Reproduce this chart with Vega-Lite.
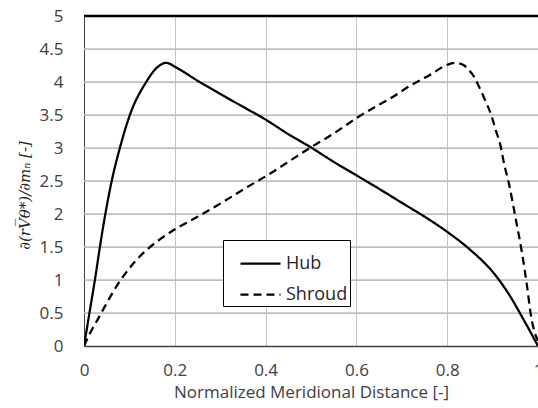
{
  "$schema": "https://vega.github.io/schema/vega-lite/v6.json",
  "width": 454,
  "height": 330,
  "autosize": {"type": "none"},
  "padding": {"left": 84, "top": 16, "right": 0, "bottom": 62},
  "background": "white",
  "config": {
    "view": {"stroke": null},
    "font": "Open Sans",
    "axis": {"gridColor": "#c4c4c4", "gridWidth": 1, "gridOpacity": 1, "tickSize": 0, "tickColor": "transparent"}
  },
  "encoding": {
    "y": {
      "field": "y", "type": "quantitative",
      "scale": {"domain": [0, 5], "nice": false},
      "axis": {
        "values": [0, 0.5, 1, 1.5, 2, 2.5, 3, 3.5, 4, 4.5, 5],
        "format": ".1~f",
        "grid": true,
        "gridColor": "#bdbdbd",
        "labelOverlap": false,
        "title": "∂(rV̅θ*)/∂mₙ [-]",
        "titleFont": "DejaVu Serif",
        "titleFontStyle": "italic",
        "titleFontWeight": "normal",
        "titleFontSize": 15,
        "titleColor": "#262626",
        "titleX": -52,
        "titleY": 179,
        "labelFont": "Open Sans",
        "labelFontSize": 17,
        "labelColor": "#404040",
        "labelPadding": 21,
        "domainColor": "#404040",
        "domainWidth": 1
      }
    }
  },
  "layer": [
    {
      "data": {"values": [{"y": 0.5}, {"y": 1}, {"y": 1.5}, {"y": 2}, {"y": 2.5}, {"y": 3}, {"y": 3.5}, {"y": 4}, {"y": 4.5}]},
      "mark": {"type": "rule", "color": "#c0c0c0", "strokeWidth": 1.4},
      "encoding": {}
    },
    {
      "data": {
        "values": [
          {"x": 0, "y": 0, "series": "Hub"},
          {"x": 0.006, "y": 0.25, "series": "Hub"},
          {"x": 0.012, "y": 0.5, "series": "Hub"},
          {"x": 0.024, "y": 1.0, "series": "Hub"},
          {"x": 0.035, "y": 1.5, "series": "Hub"},
          {"x": 0.047, "y": 2.0, "series": "Hub"},
          {"x": 0.061, "y": 2.5, "series": "Hub"},
          {"x": 0.079, "y": 3.0, "series": "Hub"},
          {"x": 0.101, "y": 3.5, "series": "Hub"},
          {"x": 0.137, "y": 4.0, "series": "Hub"},
          {"x": 0.158, "y": 4.2, "series": "Hub"},
          {"x": 0.181, "y": 4.29, "series": "Hub"},
          {"x": 0.203, "y": 4.22, "series": "Hub"},
          {"x": 0.25, "y": 4.02, "series": "Hub"},
          {"x": 0.3, "y": 3.82, "series": "Hub"},
          {"x": 0.341, "y": 3.66, "series": "Hub"},
          {"x": 0.4, "y": 3.43, "series": "Hub"},
          {"x": 0.45, "y": 3.21, "series": "Hub"},
          {"x": 0.502, "y": 3.0, "series": "Hub"},
          {"x": 0.55, "y": 2.79, "series": "Hub"},
          {"x": 0.604, "y": 2.57, "series": "Hub"},
          {"x": 0.648, "y": 2.39, "series": "Hub"},
          {"x": 0.7, "y": 2.17, "series": "Hub"},
          {"x": 0.757, "y": 1.93, "series": "Hub"},
          {"x": 0.8, "y": 1.73, "series": "Hub"},
          {"x": 0.852, "y": 1.45, "series": "Hub"},
          {"x": 0.903, "y": 1.1, "series": "Hub"},
          {"x": 0.939, "y": 0.75, "series": "Hub"},
          {"x": 0.969, "y": 0.39, "series": "Hub"},
          {"x": 0.993, "y": 0.09, "series": "Hub"},
          {"x": 1.0, "y": 0.0, "series": "Hub"},
          {"x": 0, "y": 0, "series": "Shroud"},
          {"x": 0.013, "y": 0.19, "series": "Shroud"},
          {"x": 0.03, "y": 0.4, "series": "Shroud"},
          {"x": 0.046, "y": 0.6, "series": "Shroud"},
          {"x": 0.065, "y": 0.83, "series": "Shroud"},
          {"x": 0.086, "y": 1.05, "series": "Shroud"},
          {"x": 0.11, "y": 1.26, "series": "Shroud"},
          {"x": 0.137, "y": 1.45, "series": "Shroud"},
          {"x": 0.17, "y": 1.63, "series": "Shroud"},
          {"x": 0.203, "y": 1.78, "series": "Shroud"},
          {"x": 0.24, "y": 1.92, "series": "Shroud"},
          {"x": 0.276, "y": 2.06, "series": "Shroud"},
          {"x": 0.32, "y": 2.24, "series": "Shroud"},
          {"x": 0.36, "y": 2.41, "series": "Shroud"},
          {"x": 0.4, "y": 2.57, "series": "Shroud"},
          {"x": 0.45, "y": 2.79, "series": "Shroud"},
          {"x": 0.502, "y": 3.02, "series": "Shroud"},
          {"x": 0.55, "y": 3.22, "series": "Shroud"},
          {"x": 0.604, "y": 3.47, "series": "Shroud"},
          {"x": 0.648, "y": 3.65, "series": "Shroud"},
          {"x": 0.677, "y": 3.76, "series": "Shroud"},
          {"x": 0.72, "y": 3.95, "series": "Shroud"},
          {"x": 0.76, "y": 4.1, "series": "Shroud"},
          {"x": 0.8, "y": 4.26, "series": "Shroud"},
          {"x": 0.819, "y": 4.29, "series": "Shroud"},
          {"x": 0.835, "y": 4.26, "series": "Shroud"},
          {"x": 0.848, "y": 4.18, "series": "Shroud"},
          {"x": 0.86, "y": 4.07, "series": "Shroud"},
          {"x": 0.87, "y": 3.93, "series": "Shroud"},
          {"x": 0.885, "y": 3.7, "series": "Shroud"},
          {"x": 0.896, "y": 3.52, "series": "Shroud"},
          {"x": 0.907, "y": 3.27, "series": "Shroud"},
          {"x": 0.918, "y": 3.02, "series": "Shroud"},
          {"x": 0.925, "y": 2.77, "series": "Shroud"},
          {"x": 0.936, "y": 2.46, "series": "Shroud"},
          {"x": 0.95, "y": 1.96, "series": "Shroud"},
          {"x": 0.965, "y": 1.4, "series": "Shroud"},
          {"x": 0.976, "y": 0.9, "series": "Shroud"},
          {"x": 0.985, "y": 0.44, "series": "Shroud"},
          {"x": 0.993, "y": 0.2, "series": "Shroud"},
          {"x": 1.0, "y": 0.08, "series": "Shroud"}
        ]
      },
      "mark": {"type": "line", "interpolate": "monotone", "strokeWidth": 2.25, "color": "black", "clip": true},
      "encoding": {
        "x": {
          "field": "x", "type": "quantitative",
          "scale": {"domain": [0, 1], "nice": false},
          "axis": {
            "values": [0, 0.2, 0.4, 0.6, 0.8, 1],
            "format": ".1~f",
            "labelFlush": false,
            "grid": true,
            "title": "Normalized Meridional Distance [-]",
            "titleFont": "Open Sans",
            "titleFontSize": 17,
            "titleFontWeight": "normal",
            "titleColor": "#404040",
            "titlePadding": 6,
            "labelFont": "Open Sans",
            "labelFontSize": 17,
            "labelColor": "#404040",
            "labelPadding": 16,
            "domainColor": "#404040",
            "domainWidth": 1.5
          }
        },
        "strokeDash": {
          "field": "series", "type": "nominal",
          "scale": {"domain": ["Hub", "Shroud"], "range": [[1, 0], [8, 5]]},
          "legend": {
            "orient": "none",
            "legendX": 139,
            "legendY": 224,
            "title": null,
            "symbolType": "stroke",
            "symbolSize": 1600,
            "symbolStrokeWidth": 2.25,
            "symbolStrokeColor": "black",
            "strokeColor": "black",
            "fillColor": "white",
            "padding": 2,
            "symbolOffset": 14,
            "labelOffset": 4,
            "labelFont": "Open Sans",
            "labelFontSize": 18,
            "labelColor": "#262626",
            "rowPadding": -6
          }
        }
      }
    },
    {
      "data": {"values": [{"y": 5}]},
      "mark": {"type": "rule", "color": "black", "strokeWidth": 2.5},
      "encoding": {}
    }
  ]
}
